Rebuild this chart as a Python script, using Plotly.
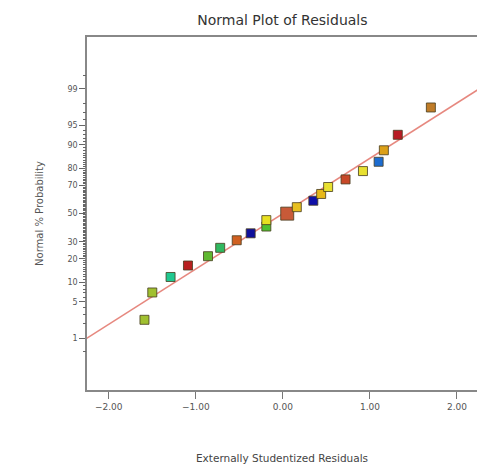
import plotly.graph_objects as go
from statistics import NormalDist

nd = NormalDist()

# Residuals (externally studentized) and their normal % probability
residuals = [-1.59, -1.50, -1.29, -1.09, -0.86, -0.72, -0.53, -0.37, -0.19, -0.19,
             0.05, 0.16, 0.35, 0.44, 0.52, 0.72, 0.92, 1.10, 1.16, 1.32, 1.70]
probability = [2.4, 7.1, 11.9, 16.7, 21.4, 26.2, 31.0, 35.7, 40.5, 45.2,
               50.0, 54.8, 59.5, 64.3, 69.0, 73.8, 78.6, 83.3, 88.1, 92.9, 97.6]
point_colors = ["#a0c030", "#a0c030", "#20c890", "#b82020", "#60b830", "#30b860",
                "#d06020", "#10109c", "#50c030", "#e8e020", "#c85a38", "#e8c020",
                "#1010a8", "#e8b818", "#e8e030", "#c84828", "#e8e030", "#1c6cd0",
                "#dca018", "#b81c24", "#c07c28"]
point_sizes = [9, 9, 9, 9, 9, 9, 9, 9, 9, 9, 13, 9, 9, 9, 9, 9, 9, 9, 9, 9, 9]

# Fitted normal line
line_mean = 0.0
line_sd = 0.97
line_x = [-2.4, 2.4]

# Probability axis ticks
major_pct = [1, 5, 10, 20, 30, 50, 70, 80, 90, 95, 99]
minor_pct = [0.5, 2, 3, 4, 6, 7, 8, 9] + [p for p in range(11, 90) if p not in major_pct] + [91, 92, 93, 94, 96, 97, 98, 99.5]

z = lambda p: nd.inv_cdf(p / 100.0)
y_range = [-3.285, 3.29]

fig = go.Figure()
fig.add_trace(go.Scatter(
    x=line_x, y=[(v - line_mean) / line_sd for v in line_x],
    mode="lines", line=dict(color="rgba(226,115,105,0.85)", width=1.6),
    hoverinfo="skip", showlegend=False))
fig.add_trace(go.Scatter(
    x=residuals, y=[z(p) for p in probability], mode="markers",
    marker=dict(symbol="square", size=point_sizes, color=point_colors, opacity=1,
                line=dict(color="rgba(70,60,30,0.8)", width=1)),
    showlegend=False))
# invisible trace to anchor the minor-tick axis
fig.add_trace(go.Scatter(x=[0], y=[0], yaxis="y2", mode="markers",
                         marker=dict(opacity=0), hoverinfo="skip", showlegend=False))

fig.update_layout(
    width=477, height=467,
    margin=dict(l=87, r=0, t=37, b=77),
    paper_bgcolor="white", plot_bgcolor="white",
    font=dict(family="DejaVu Sans", color="#444"),
    title=dict(text="Normal Plot of Residuals", x=0.592, xanchor="center",
               y=0.957, yanchor="middle",
               font=dict(size=14, color="#333", family="DejaVu Sans")),
    xaxis=dict(range=[-2.25, 2.23], tickvals=[-2, -1, 0, 1, 2], tickformat=".2f",
               showgrid=False, zeroline=False, showline=True, linecolor="#888",
               linewidth=1.5, mirror=True, ticks="outside", ticklen=7, tickcolor="#777",
               tickfont=dict(size=9, color="#555"),
               title=dict(text="Externally Studentized Residuals", standoff=44,
                          font=dict(size=10.5, color="#444"))),
    yaxis=dict(range=y_range, tickvals=[z(p) for p in major_pct],
               ticktext=[str(p) for p in major_pct],
               showgrid=False, zeroline=False, showline=True, linecolor="#888",
               linewidth=1.5, ticks="outside", ticklen=6, tickcolor="#666",
               tickfont=dict(size=8, color="#555"),
               title=dict(text="Normal % Probability", standoff=22,
                          font=dict(size=10, color="#555"))),
    yaxis2=dict(range=y_range, overlaying="y", side="left", anchor="x",
                tickvals=[z(p) for p in minor_pct], showticklabels=False,
                ticks="outside", ticklen=3, tickcolor="#666", tickwidth=1,
                showgrid=False, zeroline=False, showline=False),
)

fig.write_html("out.html")
